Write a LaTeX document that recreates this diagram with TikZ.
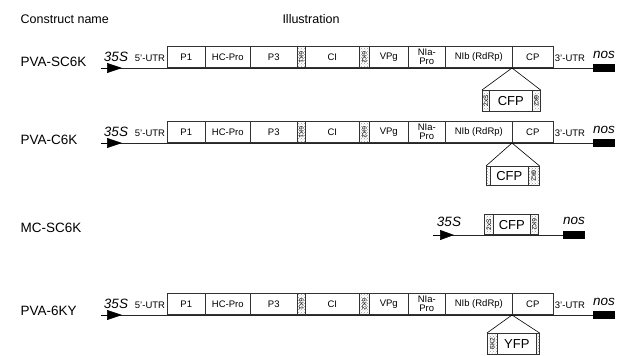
\documentclass[tikz,border=0pt]{standalone}
\usepackage{fontspec}
\setmainfont{Liberation Sans}
\usetikzlibrary{patterns,arrows.meta}

\tikzset{
	seg/.style={draw=black!80, line width=0.6pt, inner sep=0pt, anchor=south west, minimum height=21pt, align=center, font=\fontsize{9.5}{9}\selectfont},
	hatch/.style={seg, pattern=crosshatch dots, pattern color=black!40, font=\fontsize{6.5}{6}\selectfont},
	ins/.style={draw=black!80, line width=0.6pt, inner sep=0pt, anchor=north west, minimum height=21pt, font=\fontsize{13}{13}\selectfont},
	inshatch/.style={ins, pattern=crosshatch dots, pattern color=black!40, font=\fontsize{6.5}{6}\selectfont},
	nosbox/.style={fill=black, inner sep=0pt, anchor=west, minimum width=22pt, minimum height=8pt},
	promo/.style={font=\fontsize{13.5}{13}\selectfont\itshape},
	utr/.style={font=\fontsize{9.5}{9}\selectfont},
	rowname/.style={anchor=west, font=\fontsize{13.5}{13}\selectfont},
	header/.style={font=\fontsize{12.5}{12}\selectfont}
}

\begin{document}
\begin{tikzpicture}[x=1pt, y=-1pt, line width=0.6pt]
	\useasboundingbox (0,0) rectangle (622,356);
	
	\node[header, anchor=west] (hname) at (17,19) {Construct name};
	\node[header] (hill) at (311,19) {Illustration};
	
	\node[rowname] (sc6k) at (17,62) {PVA-SC6K};
	\node[rowname] (c6k) at (17,140) {PVA-C6K};
	\node[rowname] (mc) at (17,228) {MC-SC6K};
	\node[rowname] (yfp6k) at (17,311) {PVA-6KY};
	
	% viral genome rows
	\foreach \r/\Y in {1/68,2/143,4/315}{
		\coordinate (start\r) at (101,\Y);
		\node[nosbox] (nos\r) at (593,\Y) {};
		\draw[black!85] (start\r) -- (nos\r.west);
		\draw[-{Triangle[length=15pt,width=10pt]}] (start\r) -- ++(21,0);
		\node[promo] (p35s\r) at (116,\Y-11) {35S};
		\node[utr] (utr5\r) at (150,\Y-10) {5'-UTR};
		\node[utr] (utr3\r) at (570,\Y-10) {3'-UTR};
		\node[promo] (tnos\r) at (604,\Y-13) {nos};
		\foreach \n/\x/\w/\t in {p1/167/38/P1, hcpro/205/45/HC-Pro, p3/250/47/P3, ci/305/54/CI, vpg/369/39/VPg, nia/408/37/{NIa-\\Pro}, nib/445/67/NIb (RdRp), cp/512/41/CP}
			\node[seg, fill=white, minimum width=\w pt] (\n\r) at (\x,\Y) {\t};
		\node[hatch, minimum width=8pt] (sixka\r) at (297,\Y) {\rotatebox{-90}{6K1}};
		\node[hatch, minimum width=10pt] (sixkb\r) at (359,\Y) {\rotatebox{-90}{6K2}};
	}
	
	% insert in PVA-SC6K
	\node[inshatch, minimum width=7pt] (sa1) at (482,90) {\rotatebox{90}{2xS}};
	\node[ins, minimum width=43pt] (fp1) at (489,90) {CFP};
	\node[inshatch, minimum width=8pt] (sb1) at (532,90) {\rotatebox{-90}{6K2}};
	\draw (cp1.south west) -- (sa1.north west);
	\draw (cp1.south west) -- (sb1.north east);
	
	% insert in PVA-C6K
	\node[inshatch, minimum width=4pt, minimum height=19pt] (sa2) at (486,166) {};
	\node[ins, minimum width=38pt, minimum height=19pt] (fp2) at (490,166) {CFP};
	\node[inshatch, minimum width=11pt, minimum height=19pt] (sb2) at (528,166) {\rotatebox{-90}{6K2}};
	\draw (cp2.south west) -- (sa2.north west);
	\draw (cp2.south west) -- (sb2.north east);
	
	% MC-SC6K
	\coordinate (start3) at (433,235);
	\node[nosbox] (nos3) at (563,235) {};
	\draw[black!85] (start3) -- (nos3.west);
	\draw[-{Triangle[length=14pt,width=10pt]}] (start3) -- ++(21,0);
	\node[promo] (p35s3) at (449,222) {35S};
	\node[promo] (tnos3) at (574,221) {nos};
	\node[hatch, minimum width=9pt, minimum height=20pt] (sa3) at (484,235) {\rotatebox{90}{2xS}};
	\node[seg, fill=white, minimum width=37pt, minimum height=20pt, font=\fontsize{13}{13}\selectfont] (fp3) at (493,235) {CFP};
	\node[hatch, minimum width=8pt, minimum height=20pt] (sb3) at (530,235) {\rotatebox{-90}{6K2}};
	
	% insert in PVA-6KY
	\node[inshatch, minimum width=10pt] (sa4) at (487,333) {\rotatebox{90}{6K2}};
	\node[ins, minimum width=39pt] (fp4) at (497,333) {YFP};
	\node[inshatch, minimum width=3pt] (sb4) at (536,333) {};
	\draw (cp4.south west) -- (sa4.north west);
	\draw (cp4.south west) -- (sb4.north east);
\end{tikzpicture}
\end{document}
